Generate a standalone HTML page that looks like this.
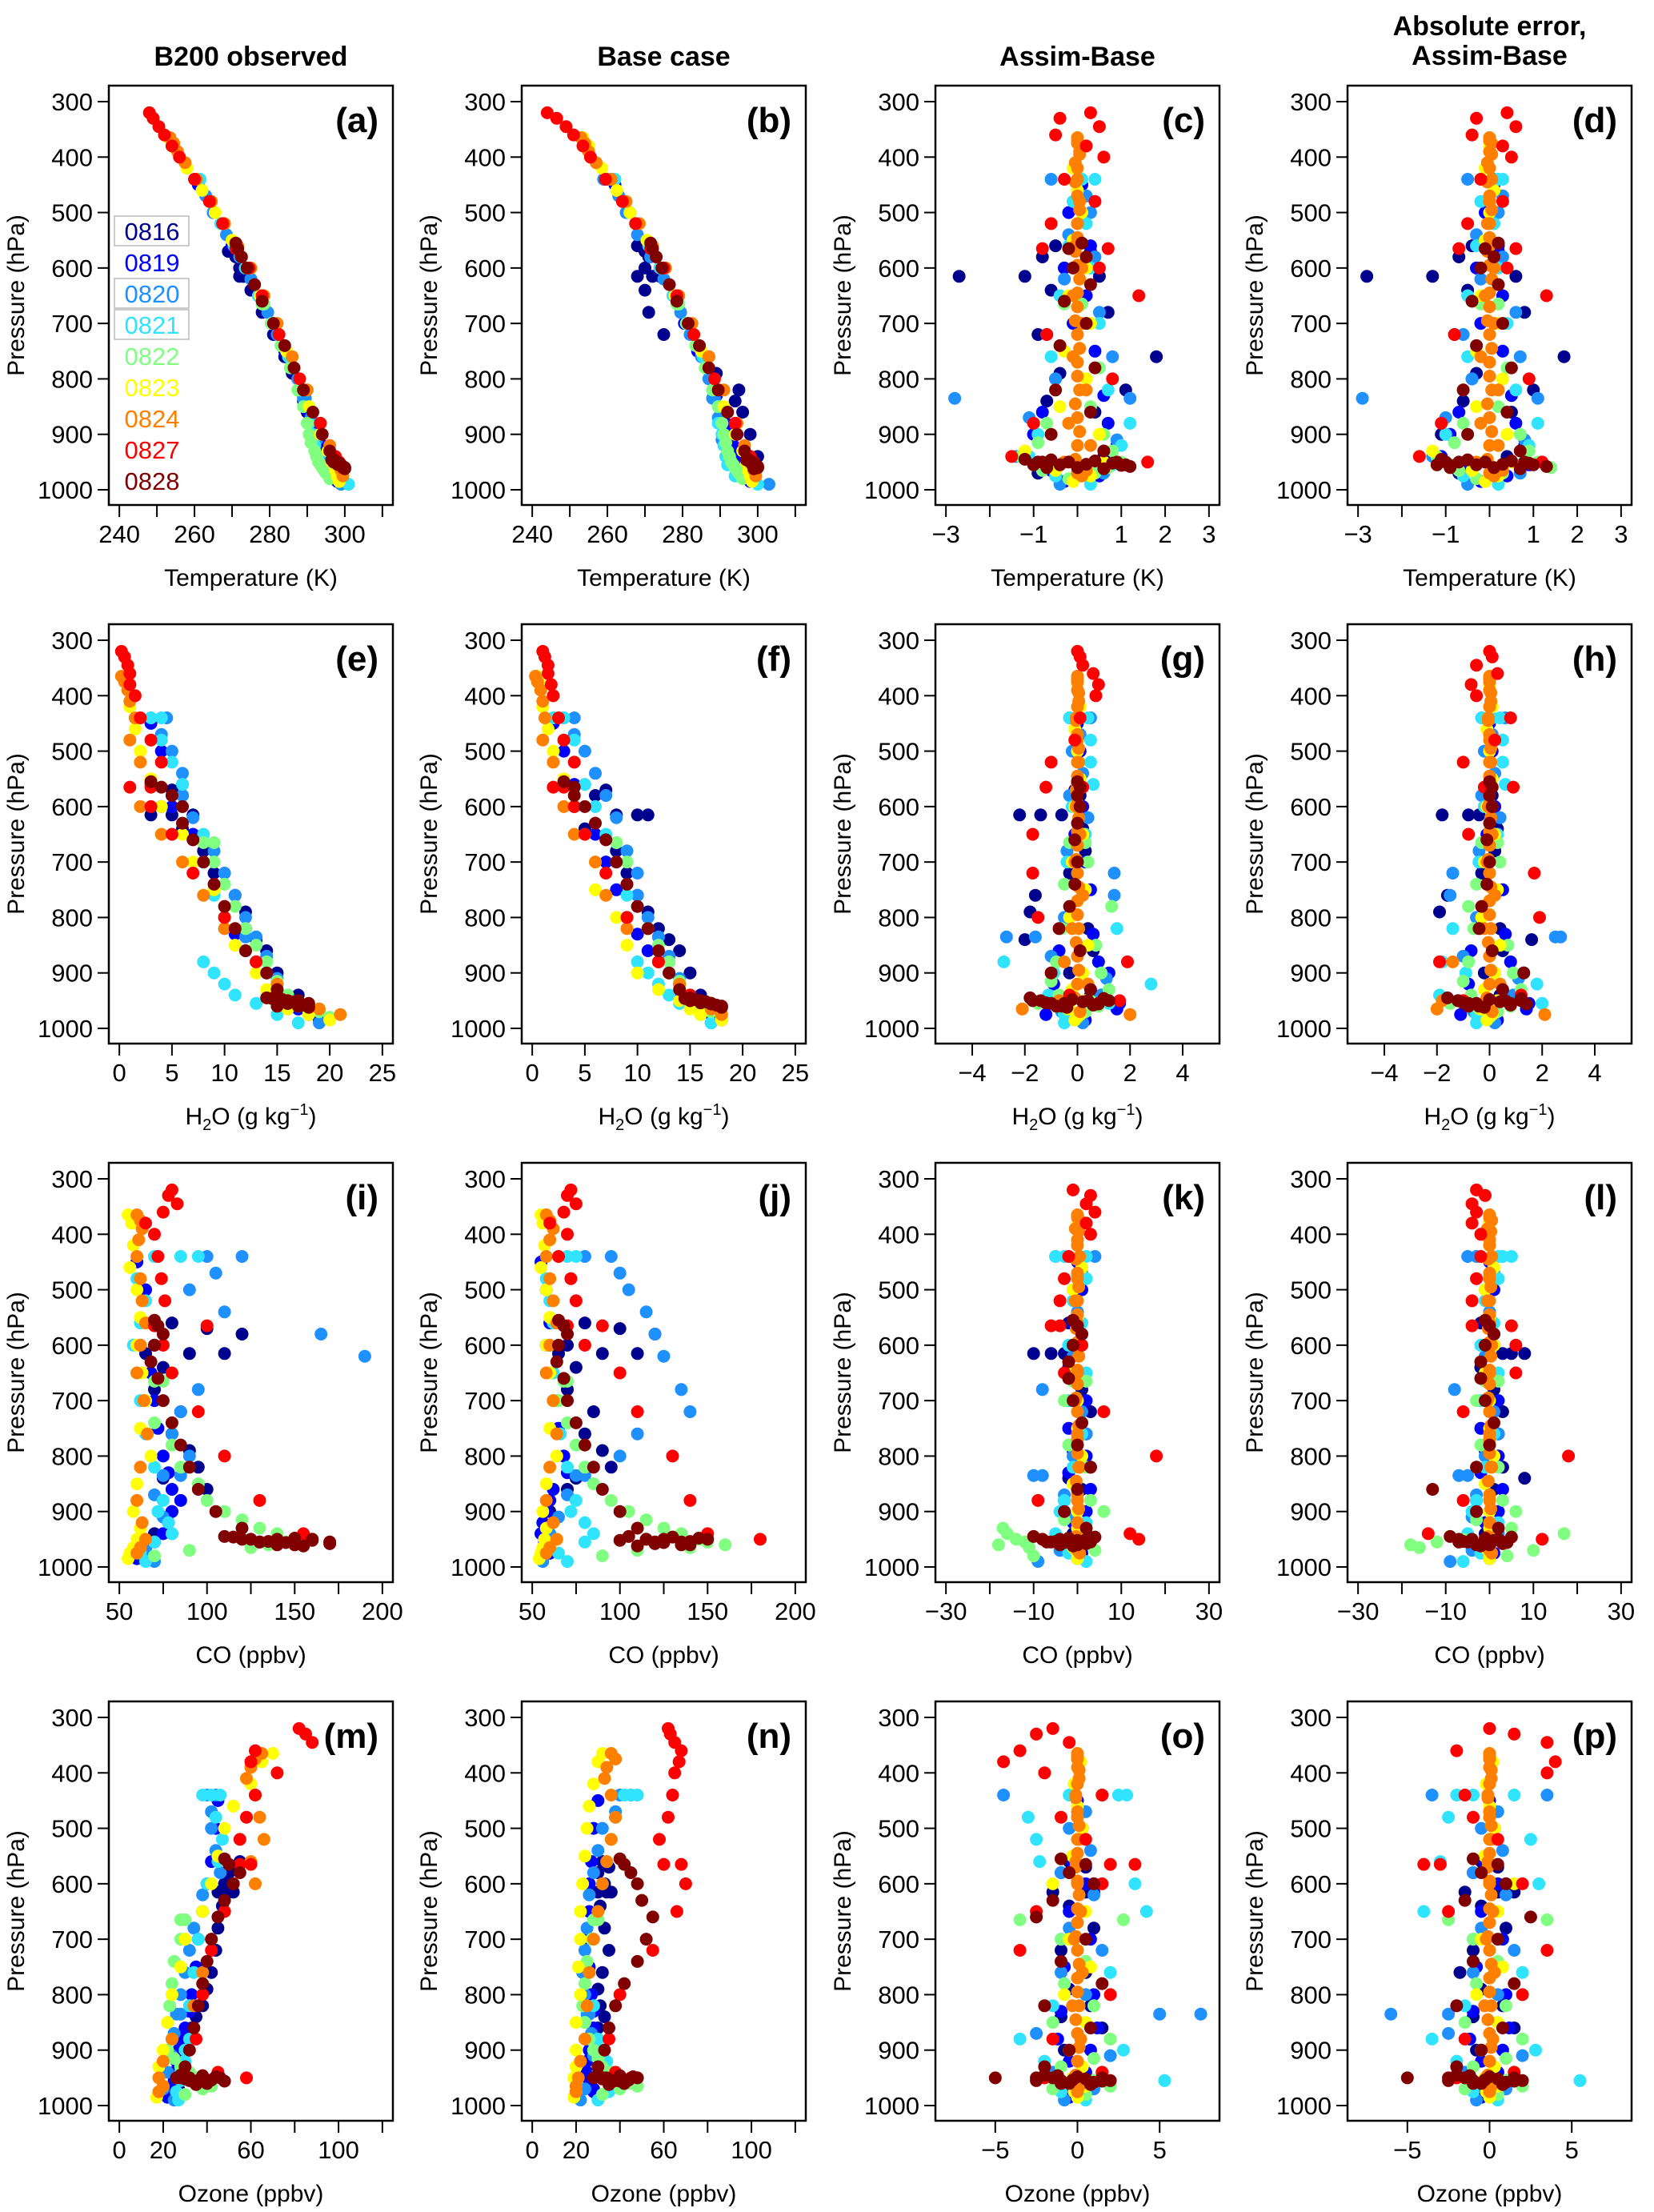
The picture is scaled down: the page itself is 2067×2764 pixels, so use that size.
<!DOCTYPE html>
<html><head><meta charset="utf-8"><style>
html,body{margin:0;padding:0;background:#fff}
svg{display:block}
text{font-family:"Liberation Sans",Arial,sans-serif;fill:#000}
</style></head><body>
<svg id="fig" width="2067" height="2764" viewBox="0 0 2067 2764"></svg>
<script>
// ---- pressure levels (hPa) per flight date ----
const dates = ["0816","0819","0820","0821","0822","0823","0824","0827","0828"];
const colors = ["#00008F","#0000FF","#1E90FF","#30E4FF","#80FF80","#FFFF00","#FF8000","#FF0000","#800000"];
const P0816=[560,570,580,600,615,615,615,640,680,720,760,790,820,840,860,900,940,970];
const P0819=[450,500,560,600,650,700,750,800,830,860,880,900,920,940,955,965,975,985];
const P0820=[440,440,470,500,540,580,620,680,720,760,800,835,835,870,910,940,970,990];
const P0821=[440,440,440,480,520,560,600,650,700,760,820,880,900,920,940,955,975,990];
const P0822=[665,665,700,740,780,820,850,880,900,915,930,940,950,955,960,965,970,980];
const P0823=[365,380,420,460,500,550,600,650,700,750,800,850,900,930,950,965,975,985];
const P0824=[365,375,390,410,440,480,520,560,600,650,700,760,820,880,920,950,965,975];
const P0827=[320,330,345,360,380,400,440,480,520,565,565,600,650,720,800,880,940,950];
const P0828=[555,565,580,600,630,660,700,740,780,820,860,900,930,950,950,955,955,960];
const PRES=[P0816,P0819,P0820,P0821,P0822,P0823,P0824,P0827,P0828];
// extra 0828 near-surface cluster levels and 0824 column levels
const SURF_P=[945,950,955,960,948,952,958,946,954,962,950,956];
const COL_P=[370,395,420,445,470,495,520,545,570,595,620,645,670,695,720,745,770,795,820,845,870,895,920,945,970];

// (a) Temperature observed
const A0816=[270,269,271,272,273,273,272,275,278,281,284,286,288,289,290,293,296,298];
const A0819=[261,265,270,273.5,277,280.5,284,287.5,289,290.5,292,293,294,295,296,297,297.5,298];
const A0820=[260,261,263,265,268.5,272,275,279.5,282,285,287.5,289,289.5,291,292.5,294.5,297,299];
const A0821=[260.5,261,261.5,264,267,270.5,273.5,277,280.5,285,288,290.5,291.5,292,293,294,296,301];
const A0822=[278,278.5,280.5,283,285.5,287.5,289,290,290.5,291,292,292.5,293,293.5,294,294.5,295,296];
const A0823=[253,254.5,258,262,265.5,270,274,277.5,281,284.5,288,290.5,293.5,295.5,296.5,297.5,298,298.5];
const A0824=[253.5,254.5,255.5,257.5,260.5,264.5,268,271.5,275,278.5,282,286,290,293.5,296,298,299,299.5];
const A0827=[248,249,250.5,252,254,256,260,264,267.5,271,271.5,274.5,278,282.5,288,293.5,297.5,298.5];
const A0828=[271,271.5,272.5,274,276,278,281,284,286.5,289,291.5,294,296,297.5,298,298.5,299,299.5];
// (b) Temperature base
const B0816=[268,270,271,270,268,272,274,270,271,275,287,289,295,294,296,298,300,296];
const B0819=[262,266,271,274,277.5,280.5,284,287.5,289,290.5,291.5,292.5,293.5,294.5,295.5,296,297,298];
const B0820=[259,260,263,265,268,271.5,275,279.5,282,285,287,288,288.5,289.5,290.5,292.5,295,303];
const B0821=[261,261.5,262,264.5,267.5,271,274,277.5,281,285.5,288,289.5,290.5,291,291.5,292,294,300];
const B0822=[278.5,279,281,283.5,286,288,289.5,290.5,291,291.5,292,292.5,293,293.5,294,294.5,295,296];
const B0823=[253.5,255,258.5,262.5,266,270.5,274.5,278,281.5,285,288.5,291,294,296,297,297.5,298,298.5];
const B0824=[253,254,255,257,261,265,268.5,272,275.5,279,282.5,287,291,294.5,296.5,298.5,299,299.5];
const B0827=[244,246.5,249,251,253.5,255.5,259.5,264,267.5,271.5,272,275,278.5,283,288.5,294,298,299];
const B0828=[271.5,272,273,274.5,276.5,278.5,281.5,284.5,287,289.5,292,294.5,296.5,298,298.5,299,299.5,300];
// (c) Temperature Assim-Base
const C0816=[-0.5,0.3,-0.8,-0.3,-1.2,-2.7,0.5,-0.6,0.7,-0.9,1.8,-0.4,1.1,-0.7,0.4,-1.0,0.6,-0.9];
const C0819=[0.1,-0.2,0.3,-0.3,0.2,-0.1,0.4,-0.5,0.6,-0.8,0.7,-1.0,0.9,-1.2,1.0,-0.6,0.5,-0.3];
const C0820=[0.0,-0.6,0.2,0.3,-0.2,0.4,-0.3,0.5,-0.7,0.8,-0.5,-2.8,1.2,-1.1,0.9,-1.4,0.6,-0.4];
const C0821=[-0.3,0.1,0.4,-0.1,0.2,-0.2,0.3,-0.4,0.5,-0.6,0.7,1.2,-0.9,1.0,-1.1,0.8,-0.5,0.3];
const C0822=[0.1,-0.3,0.2,-0.4,0.5,-0.5,0.3,-0.7,0.6,-0.9,0.8,-1.3,1.0,-1.0,0.7,-0.8,0.4,-0.2];
const C0823=[0.0,0.1,-0.1,0.0,0.1,-0.1,0.2,-0.2,0.3,-0.3,0.2,-0.4,0.5,-1.2,0.6,-0.5,0.3,-0.1];
const C0824=[0.0,0.0,0.05,-0.05,0.0,0.05,0.0,-0.05,0.1,-0.1,0.1,-0.1,0.2,-0.2,0.3,-0.3,0.2,0.1];
const C0827=[0.3,-0.4,0.5,-0.5,0.2,0.6,-0.3,0.4,-0.6,0.7,-0.8,0.5,1.4,-0.7,0.8,-1.0,-1.5,1.6];
const C0828=[0.1,-0.2,0.2,-0.1,0.3,-0.3,0.2,-0.4,0.4,-0.5,0.3,-0.6,0.6,-0.9,0.9,-1.0,1.1,-0.7];
// (d) Temperature absolute error
const D0816=[-0.4,0.2,-0.7,-0.3,-1.3,-2.8,0.6,-0.5,0.8,-0.8,1.7,-0.3,1.0,-0.6,0.5,-1.1,0.4,-0.7];
const D0819=[0.1,-0.1,0.2,-0.3,0.3,-0.2,0.3,-0.4,0.5,-0.7,0.6,-0.9,0.8,-1.1,0.9,-0.5,0.4,-0.2];
const D0820=[0.1,-0.5,0.3,0.2,-0.3,0.3,-0.2,0.6,-0.6,0.7,-0.4,-2.9,1.1,-1.0,0.8,-1.3,0.7,-0.5];
const D0821=[-0.2,0.2,0.3,-0.2,0.1,-0.3,0.2,-0.5,0.4,-0.5,0.6,1.1,-1.0,0.9,-1.2,0.7,-0.6,0.2];
const D0822=[0.2,-0.2,0.1,-0.3,0.4,-0.6,0.2,-0.6,0.7,-0.8,0.9,-1.2,1.1,-0.9,1.4,-0.7,0.3,-0.3];
const D0823=[0.0,0.0,-0.1,0.1,0.0,-0.1,0.1,-0.2,0.2,-0.3,0.3,-0.3,0.4,-1.3,0.5,-0.4,0.2,-0.1];
const D0824=[0.0,0.05,0.0,-0.05,0.05,0.0,-0.05,0.0,0.1,-0.1,0.1,-0.2,0.2,-0.2,0.2,-0.3,0.3,0.1];
const D0827=[0.4,-0.3,0.6,-0.4,0.3,0.5,-0.2,0.3,-0.5,0.6,-0.7,0.4,1.3,-0.8,0.9,-1.1,-1.6,1.2];
const D0828=[0.2,-0.1,0.1,-0.2,0.2,-0.4,0.3,-0.3,0.5,-0.6,0.4,-0.5,0.7,-1.0,0.8,-1.2,1.0,-0.9];
// (e) H2O observed
const E0816=[3,5,6,4,7,5,3,6,8,9,11,12,12,13,14,15,17,18];
const E0819=[3,4,6,5,7,8,9,10,11,12,13,14,15,15,16,17,18,19];
const E0820=[3,4.5,4,5,6,6,7,9,10,11,12,12,13,14,15,16,18,19];
const E0821=[2,3,4,4,5,6,6,8,8,9,10,8,9,10,11,13,15,17];
const E0822=[8,9,9,10,11,12,13,14,14,15,15,16,16,17,17,18,19,20];
const E0823=[0.5,1,1,1.5,2,3,4,6,7,9,10,11,13,14,15,16,18,20];
const E0824=[0.2,0.5,0.8,1,1.5,1,2,3,2,4,6,8,10,13,15,17,19,21];
const E0827=[0.2,0.5,0.8,1,1,1.5,2,3,4,1,3,3,5,7,10,13,15,16];
const E0828=[3,4,5,6,6,7,8,9,10,11,12,14,15,16,17,18,16,15];
// (f) H2O base
const F0816=[3,7,6,4,10,8,11,5,8,9,10,11,12,13,14,15,16,17];
const F0819=[2,3,4,4,6,7,8,9,10,11,12,13,14,14,15,16,17,18];
const F0820=[3,4,4,5,6,7,8,9,10,10,11,12,12,13,14,15,16,17];
const F0821=[2,3,3,4,4,5,6,7,8,9,11,10,11,12,13,14,16,17];
const F0822=[8,8,9,9,10,11,12,13,13,14,14,15,15,16,16,16,17,18];
const F0823=[0.5,0.8,1,1.5,2,3,4,5,6,6,8,9,10,12,14,15,16,18];
const F0824=[0.3,0.5,0.8,1,1.2,1,2,3,3,4,6,7,9,12,14,16,17,18];
const F0827=[1,1.2,1.5,1.5,1.8,2,2.5,3,4,2,3,4,5,7,9,12,15,16];
const F0828=[3,4,4,5,6,7,8,9,10,11,12,13,14,15,16,17,17,18];
// (g) H2O Assim-Base
const G0816=[0.0,-0.1,0.1,0.1,-2.2,-1.4,-0.6,0.2,0.3,-0.3,-1.6,-1.8,0.4,-2.0,0.6,-0.3,0.5,-0.4];
const G0819=[0.0,0.1,0.0,0.2,-0.1,0.3,0.5,-0.4,0.6,-0.7,0.8,1.2,-0.9,0.9,1.6,1.5,-1.2,0.3];
const G0820=[-0.3,0.5,0.1,-0.2,0.2,-0.3,0.4,-0.4,1.4,1.4,-0.5,-2.7,-1.6,-1.0,1.1,0.9,-0.6,0.2];
const G0821=[-0.3,0.4,0.1,0.5,0.5,0.6,-0.2,0.3,-0.4,0.2,1.5,-2.8,-0.9,2.8,-1.1,1.2,-0.5,-0.5];
const G0822=[0.3,-0.3,0.4,-0.5,1.3,-0.6,0.7,-0.8,0.9,-1.0,1.2,-0.7,0.5,-1.5,0.8,-0.4,0.3,0.0];
const G0823=[0.0,0.0,0.1,-0.1,0.0,0.1,-0.1,0.2,-0.2,0.3,-0.3,0.4,0.2,-0.2,0.3,-0.3,0.1,-0.1];
const G0824=[0.0,0.0,0.0,0.05,-0.05,0.0,0.05,0.0,-0.05,0.1,-0.1,0.2,-0.2,-0.5,0.4,-0.7,-2.1,2.0];
const G0827=[0.0,0.1,0.2,0.6,0.8,0.7,0.1,-0.1,-1.0,-1.2,0.2,0.1,-1.7,-1.7,-1.5,1.9,-0.3,1.6];
const G0828=[0.0,0.1,0.0,0.1,0.0,-0.1,0.0,-0.1,-0.3,-0.7,0.1,-1.0,0.5,-1.7,1.2,-0.5,0.8,-0.8];
// (h) H2O absolute error
const H0816=[0.0,-0.1,0.1,0.0,-1.8,-0.8,-0.4,0.3,0.2,-0.3,-1.6,-1.9,0.4,1.6,0.5,-0.2,0.4,-0.4];
const H0819=[0.0,0.1,0.0,0.2,-0.1,-0.4,0.5,-0.4,0.6,-0.7,0.8,1.3,-0.8,1.0,1.5,1.4,-1.1,0.3];
const H0820=[-0.3,0.6,0.1,-0.2,0.2,-0.3,0.4,-0.4,-1.4,-1.5,-0.5,2.5,2.7,-1.0,1.1,0.9,-0.6,0.2];
const H0821=[-0.3,0.4,0.1,0.5,0.5,0.6,-0.2,0.3,-0.4,0.2,-1.4,-1.8,-0.9,1.8,-1.9,2.0,-0.5,-0.5];
const H0822=[0.3,-0.3,0.4,-0.5,-0.8,-0.6,0.7,-0.8,0.9,-1.0,1.2,-0.7,0.5,-1.5,0.8,-0.4,0.3,0.0];
const H0823=[0.0,0.0,0.1,-0.1,0.0,0.1,-0.1,0.2,-0.2,0.3,-0.3,0.4,0.2,-0.2,0.3,-0.3,0.1,-0.1];
const H0824=[0.0,0.0,0.0,0.05,-0.05,0.0,0.05,0.0,-0.05,0.1,-0.1,0.2,-0.2,-1.4,0.4,-1.8,-2.0,2.1];
const H0827=[0.0,0.1,-0.5,0.3,-0.7,-0.5,0.8,0.2,-1.0,0.9,-0.2,0.1,-0.8,1.7,1.9,-1.9,1.2,-1.0];
const H0828=[0.0,0.1,0.0,0.1,0.0,-0.1,0.0,-0.1,-0.3,-0.4,0.1,1.3,0.5,-1.2,1.2,-0.5,0.8,-0.8];
// (i) CO observed
const I0816=[80,100,120,70,90,110,65,75,70,85,80,90,95,75,100,80,70,60];
const I0819=[60,65,70,62,68,70,72,75,78,80,85,80,78,75,70,65,62,60];
const I0820=[100,120,105,90,110,165,190,95,85,80,90,85,75,70,75,80,65,70];
const I0821=[70,85,95,60,65,62,58,60,62,65,70,75,72,78,80,70,62,65];
const I0822=[75,70,65,70,80,85,95,100,110,120,130,140,150,145,135,125,90,70];
const I0823=[55,57,58,56,60,62,60,63,65,62,68,60,58,62,60,58,56,55];
const I0824=[60,62,63,61,60,62,63,65,62,60,64,66,62,60,63,65,62,60];
const I0827=[80,78,83,75,65,70,72,74,76,70,100,75,80,95,110,130,155,160];
const I0828=[70,72,75,70,68,72,75,80,85,90,95,105,120,140,160,170,130,150];
// (j) CO base
const J0816=[80,100,120,70,90,110,65,75,70,85,80,90,95,75,70,60,55,58];
const J0819=[55,58,60,58,60,62,65,68,70,62,60,58,56,55,57,58,60,55];
const J0820=[80,95,100,105,115,120,125,135,140,110,100,80,75,70,65,60,58,56];
const J0821=[65,70,75,58,60,62,60,62,64,66,70,75,72,80,85,80,65,70];
const J0822=[70,68,65,70,75,80,85,95,105,115,125,135,145,150,160,140,110,90];
const J0823=[55,56,57,55,58,60,58,60,62,60,64,58,56,58,57,56,55,54];
const J0824=[58,60,62,60,58,60,62,64,60,58,62,64,60,58,62,64,60,58];
const J0827=[72,70,75,68,60,70,65,72,75,70,90,80,100,110,130,140,150,180];
const J0828=[65,68,70,65,64,68,70,75,80,85,90,100,110,115,125,135,120,140];
// (k) CO Assim-Base
const K0816=[-2,0,1,-1,-10,-6,-3,-2,1,3,2,-1,3,-2,1,0,-1,0];
const K0819=[0,1,-1,1,-1,2,-2,2,-2,3,-3,2,-1,1,0,-1,1,0];
const K0820=[-5,4,1,-1,0,1,-1,-8,1,2,-1,-10,-8,-3,-1,2,-4,-9];
const K0821=[-3,-5,2,2,-1,1,-2,2,-2,1,-1,-3,-4,2,-5,3,-2,2];
const K0822=[2,-1,-3,1,-2,2,-1,3,6,-3,-17,-16,-14,-12,-18,-11,4,-10];
const K0823=[0,0,0,1,-1,0,1,-1,0,0,1,-1,0,0,1,-1,0,0];
const K0824=[0,0.5,-0.5,0,0.5,0,-0.5,0,0.5,0,-0.5,0,0.5,0,0,-0.5,0,0.5];
const K0827=[-1,3,2,4,2,3,-2,-3,-4,-6,-4,1,-3,6,18,-9,12,14];
const K0828=[-1,0,1,-1,-2,-2,-1,1,0,3,0,-3,2,-4,2,-7,3,0];
// (l) CO absolute error
const L0816=[-2,0,1,-1,3,5,8,-2,1,3,2,-1,3,8,1,0,-1,0];
const L0819=[0,1,-1,1,-1,2,-2,2,-2,3,-3,2,-1,1,0,-1,1,0];
const L0820=[-5,-3,1,-1,0,1,-1,-8,1,2,-1,-7,-5,-3,-4,2,-4,-9];
const L0821=[3,5,2,2,-1,1,-2,2,-2,1,-1,-3,-4,2,-5,3,-2,-6];
const L0822=[2,-1,-3,1,-2,2,-1,3,6,-3,5,17,-6,-12,-18,-16,10,4];
const L0823=[0,0,0,1,-1,0,1,-1,0,0,1,-1,0,0,1,-1,0,0];
const L0824=[0,0.5,-0.5,0,0.5,0,-0.5,0,0.5,0,-0.5,0,0.5,0,0,-0.5,0,0.5];
const L0827=[-3,-1,-4,-3,-4,-2,-2,-3,-4,5,-4,6,6,-6,18,-6,-14,12];
const L0828=[-1,0,1,-1,-2,-2,-1,1,0,-3,-13,-3,2,-4,2,-7,3,0];
// (m) Ozone observed
const M0816=[55,52,50,48,52,45,50,47,45,44,42,40,38,35,33,30,28,27];
const M0819=[45,44,42,40,38,36,35,33,32,30,28,27,26,25,25,24,23,22];
const M0820=[40,44,42,42,44,46,38,34,32,30,28,26,28,25,24,22,20,25];
const M0821=[38,42,46,44,47,45,40,38,36,34,32,32,30,30,28,28,26,27];
const M0822=[28,30,28,25,24,23,22,24,22,25,28,32,35,38,40,42,38,30];
const M0823=[70,65,60,52,48,45,42,38,30,28,24,22,20,18,18,20,18,17];
const M0824=[65,62,60,58,62,64,66,60,62,48,42,38,34,24,20,18,20,18];
const M0827=[82,85,88,62,60,72,62,58,55,55,60,52,48,42,38,35,45,58];
const M0828=[48,50,55,52,48,45,42,40,38,36,34,32,30,28,26,32,36,40];
// (n) Ozone base
const N0816=[32,35,30,33,36,30,34,31,33,35,32,30,31,33,30,32,30,28];
const N0819=[30,28,27,26,26,25,26,27,28,28,27,26,25,25,26,27,28,30];
const N0820=[40,45,38,32,30,28,26,25,24,23,24,25,26,27,28,30,24,22];
const N0821=[42,45,48,38,36,34,32,30,28,26,28,30,32,34,36,40,35,30];
const N0822=[28,30,27,25,24,23,24,26,28,30,32,35,38,42,45,48,40,32];
const N0823=[32,30,28,26,25,24,23,22,22,21,22,20,20,20,19,20,20,19];
const N0824=[36,38,34,33,36,38,36,34,32,30,28,26,25,24,22,21,20,20];
const N0827=[62,63,65,68,67,65,64,62,58,60,68,70,66,55,40,35,38,45];
const N0828=[40,42,45,48,50,55,52,48,42,38,35,33,30,28,33,36,40,42];
// (o) Ozone Assim-Base
const O0816=[-0.5,0.5,-1,1,-1.5,0.5,1,-0.5,1,-1,0.5,-0.5,0.8,-1,1.5,-0.8,0.5,-0.3];
const O0819=[0,0.3,-0.3,0.5,-0.5,0.8,-0.8,1,-1,1.2,-1.2,0.8,-0.5,0.5,1,-1,0.3,-0.5];
const O0820=[-4.5,1.5,0.5,-0.5,0.8,-1,1,-0.5,1.5,-1,0.5,5,7.5,-2.5,2,-1.5,1,-0.8];
const O0821=[-0.5,2.5,3,-3,-2.5,-2.3,3.5,4.2,-1,2,-1.5,-3.5,2.8,-2,1.5,5.3,-1,0.5];
const O0822=[-3.5,2.8,-1,0.5,-0.8,1,-1.5,2,-0.5,1,-1,1.5,-2,1,-0.5,2,-1.5,0.5];
const O0823=[0,0.2,-0.2,0,0.3,-0.3,-1.5,0.5,-0.5,0.8,-0.8,0.5,-0.5,0.3,-0.3,0.5,-0.2,0];
const O0824=[0,0,0,0.1,-0.1,0,0.1,-0.1,0,0.2,-0.2,0.3,-0.3,0.2,0,-0.2,0.1,0];
const O0827=[-1.5,-2.5,-0.5,-3.5,-4.5,-2,1.5,-1,0.5,2,3.5,1.5,-2.5,-3.5,2,-1.5,1.5,-2];
const O0828=[-1,0.5,-0.5,1,-1.5,-2.5,0.5,-1,1.5,-2,0.8,-0.5,-2,-5,1.5,-2.5,2,-1];
// (p) Ozone absolute error
const Q0816=[-0.5,0.5,-1,1,-1.5,0.5,1.5,-0.5,1,-1,-1.8,-0.5,0.8,-1,1.5,-0.8,0.5,-0.3];
const Q0819=[0,0.3,-0.3,0.5,-0.5,0.8,-0.8,1,-1,1.2,-1.2,0.8,-0.5,0.5,1,-1,0.3,-0.5];
const Q0820=[-3.5,3.5,0.5,-0.5,0.8,-1,1,-0.5,1.5,-1,0.5,-2.5,-6,-2.5,2,-1.5,1,-0.8];
const Q0821=[-2,-1,1.5,-2.5,2.5,-3,3,-4,-1,2,-1.5,-3.5,2.8,-2,1.5,5.5,-1,0.5];
const Q0822=[-2.5,3.5,-1,0.5,-0.8,1,-1.5,2,-0.5,1,-1,1.5,-2,1,-0.5,2,-1.5,0.5];
const Q0823=[0,0.2,-0.2,0,0.3,-0.3,1.5,0.5,-0.5,0.8,-0.8,0.5,-0.5,0.3,-0.3,0.5,-0.2,0];
const Q0824=[0,0,0,0.1,-0.1,0,0.1,-0.1,0,0.2,-0.2,0.3,-0.3,0.2,0,-0.2,0.1,0];
const Q0827=[0,1.5,3.5,-2,4,3.5,-1.5,-1,0.5,-3,-4,2,-2.5,3.5,2,-1.5,1.5,-2];
const Q0828=[-1,0.5,-0.5,1,-1.5,2.5,0.5,-1,1.5,-2,0.8,-0.5,-2,-5,1.5,-2.5,2,-1];

// 0828 near-surface cluster values per panel
const SA=[297,298,299,300,297.5,298.5,299.5,296.5,298,300,297,299];
const SB=[297.5,298.5,299.5,300,298,299,300,297,298.5,299,298,299.5];
const SC=[-1.2,-0.8,-0.4,0,0.4,0.8,1.2,-0.6,0.2,0.6,-0.2,1.0];
const SD=[-1.1,-0.7,-0.3,0.1,0.5,0.9,1.3,-0.5,0.3,0.7,-0.1,-0.9];
const SE=[14,15,16,17,15.5,16.5,17.5,14.5,16,18,15,17];
const SF=[15,16,17,18,15.5,16.5,17.5,14.5,16,18,15,17];
const SG=[-1.8,-1.4,-1,-0.6,-0.2,0.2,0.6,1,-1.2,-0.4,0.4,0.8];
const SH=[-1.6,-1.2,-0.8,-0.4,0,0.4,0.8,1.2,-1,-0.2,0.6,1.4];
const SI=[110,120,130,140,150,160,170,115,135,155,125,145];
const SJ=[105,115,125,135,145,100,120,130,140,110,150,125];
const SK=[-10,-8,-6,-4,-2,0,2,4,-5,-1,3,-3];
const SL=[-9,-7,-5,-3,-1,1,3,5,-6,-2,2,4];
const SM=[28,32,36,40,44,30,34,38,42,35,46,48];
const SN=[30,34,38,42,46,32,36,40,44,35,48,40];
const SO=[-2,-1.5,-1,-0.5,0,0.5,1,-1.2,-0.3,0.8,-2.5,1.5];
const SP=[-2,-1.5,-1,-0.5,0,0.5,1,-1.2,-0.3,0.8,-2.5,1.5];
// 0824 column values (difference panels)
const CT=[0,0.05,0,-0.05,0,0.05,0,0,-0.05,0,0.05,0,0,-0.05,0,0.05,0,0,0.05,-0.05,0,0.05,0,-0.05,0];
const CQ=[0,0.05,0,-0.05,0,0.05,0,0,-0.05,0,0.05,0,0,-0.05,0,0.05,0,0,0.05,-0.05,0,0.05,0,-0.1,0.1];
const CC=[0,0.3,0,-0.3,0,0.3,0,0,-0.3,0,0.3,0,0,-0.3,0,0.3,0,0,0.3,-0.3,0,0.3,0,-0.3,0];
const CO3=[0,0.1,0,-0.1,0,0.1,0,0,-0.1,0,0.1,0,0,-0.1,0,0.1,0,0,0.1,-0.1,0,0.1,0,-0.1,0];

// tick definitions
const yTicks=[300,400,500,600,700,800,900,1000];
const tTicks=[240,250,260,270,280,290,300,310], tLabels=[240,260,280,300];
const tdTicks=[-3,-2,-1,0,1,2,3], tdLabels=[-3,-1,1,2,3];
const qTicks=[0,5,10,15,20,25], qLabels=[0,5,10,15,20,25];
const qdTicks=[-4,-2,0,2,4], qdLabels=[-4,-2,0,2,4];
const coTicks=[50,75,100,125,150,175,200], coLabels=[50,100,150,200];
const codTicks=[-30,-20,-10,0,10,20,30], codLabels=[-30,-10,10,30];
const oTicks=[0,20,40,60,80,100,120], oLabels=[0,20,60,100];
const odTicks=[-5,0,5], odLabels=[-5,0,5];

const titles=["B200 observed","Base case","Assim-Base","Absolute error,|Assim-Base"];
const colX=[136,652,1169,1684], rowY=[107,780,1453,2126], W=355, H=524;
const NS="http://www.w3.org/2000/svg";
const svg=document.getElementById("fig");
function el(tag,attrs,parent){const e=document.createElementNS(NS,tag);for(const k in attrs)e.setAttribute(k,attrs[k]);(parent||svg).appendChild(e);return e;}

const panels=[
 {id:"a",r:0,c:0,xr:[240,310],tk:tTicks,lb:tLabels,xt:"T",s:SA,col:null,v:[A0816,A0819,A0820,A0821,A0822,A0823,A0824,A0827,A0828]},
 {id:"b",r:0,c:1,xr:[240,310],tk:tTicks,lb:tLabels,xt:"T",s:SB,col:null,v:[B0816,B0819,B0820,B0821,B0822,B0823,B0824,B0827,B0828]},
 {id:"c",r:0,c:2,xr:[-3,3],tk:tdTicks,lb:tdLabels,xt:"T",s:SC,col:CT,v:[C0816,C0819,C0820,C0821,C0822,C0823,C0824,C0827,C0828]},
 {id:"d",r:0,c:3,xr:[-3,3],tk:tdTicks,lb:tdLabels,xt:"T",s:SD,col:CT,v:[D0816,D0819,D0820,D0821,D0822,D0823,D0824,D0827,D0828]},
 {id:"e",r:1,c:0,xr:[0,25],tk:qTicks,lb:qLabels,xt:"Q",s:SE,col:null,v:[E0816,E0819,E0820,E0821,E0822,E0823,E0824,E0827,E0828]},
 {id:"f",r:1,c:1,xr:[0,25],tk:qTicks,lb:qLabels,xt:"Q",s:SF,col:null,v:[F0816,F0819,F0820,F0821,F0822,F0823,F0824,F0827,F0828]},
 {id:"g",r:1,c:2,xr:[-5,5],tk:qdTicks,lb:qdLabels,xt:"Q",s:SG,col:CQ,v:[G0816,G0819,G0820,G0821,G0822,G0823,G0824,G0827,G0828]},
 {id:"h",r:1,c:3,xr:[-5,5],tk:qdTicks,lb:qdLabels,xt:"Q",s:SH,col:CQ,v:[H0816,H0819,H0820,H0821,H0822,H0823,H0824,H0827,H0828]},
 {id:"i",r:2,c:0,xr:[50,200],tk:coTicks,lb:coLabels,xt:"CO",s:SI,col:null,v:[I0816,I0819,I0820,I0821,I0822,I0823,I0824,I0827,I0828]},
 {id:"j",r:2,c:1,xr:[50,200],tk:coTicks,lb:coLabels,xt:"CO",s:SJ,col:null,v:[J0816,J0819,J0820,J0821,J0822,J0823,J0824,J0827,J0828]},
 {id:"k",r:2,c:2,xr:[-30,30],tk:codTicks,lb:codLabels,xt:"CO",s:SK,col:CC,v:[K0816,K0819,K0820,K0821,K0822,K0823,K0824,K0827,K0828]},
 {id:"l",r:2,c:3,xr:[-30,30],tk:codTicks,lb:codLabels,xt:"CO",s:SL,col:CC,v:[L0816,L0819,L0820,L0821,L0822,L0823,L0824,L0827,L0828]},
 {id:"m",r:3,c:0,xr:[0,120],tk:oTicks,lb:oLabels,xt:"O3",s:SM,col:null,v:[M0816,M0819,M0820,M0821,M0822,M0823,M0824,M0827,M0828]},
 {id:"n",r:3,c:1,xr:[0,120],tk:oTicks,lb:oLabels,xt:"O3",s:SN,col:null,v:[N0816,N0819,N0820,N0821,N0822,N0823,N0824,N0827,N0828]},
 {id:"o",r:3,c:2,xr:[-8,8],tk:odTicks,lb:odLabels,xt:"O3",s:SO,col:CO3,v:[O0816,O0819,O0820,O0821,O0822,O0823,O0824,O0827,O0828]},
 {id:"p",r:3,c:3,xr:[-8,8],tk:odTicks,lb:odLabels,xt:"O3",s:SP,col:CO3,v:[Q0816,Q0819,Q0820,Q0821,Q0822,Q0823,Q0824,Q0827,Q0828]}
];

// column titles
titles.forEach((t,i)=>{
  const cx=colX[i]+W/2;
  const parts=t.split("|");
  parts.forEach((s,j)=>{
    const y = parts.length===1 ? 82 : 44+j*37;
    const tx=el("text",{x:cx,y:y,"text-anchor":"middle","font-size":"34","font-weight":"bold"});
    tx.textContent=s;
    
    
  });
});

const R=8;
panels.forEach(pn=>{
  const L=colX[pn.c], T=rowY[pn.r];
  const g=el("g",{});
  
  
  const pad=(pn.xr[1]-pn.xr[0])*0.04;
  const x0=pn.xr[0]-pad, x1=pn.xr[1]+pad;
  const sx=v=>L+(v-x0)/(x1-x0)*W;
  const sy=p=>T+20+(p-300)/700*485;
  const pts=el("g",{},g);
  
  
  function series(vals,pr,color,name){
    vals.forEach((val,k)=>{
      const c=el("circle",{cx:sx(val).toFixed(1),cy:sy(pr[k]).toFixed(1),r:R,fill:color},pts);
      
      
    });
  }
  pn.v.forEach((arr,di)=>{
    if(di===7 && pn.col) series(pn.col,COL_P,colors[6],'point-0824');
    series(arr,PRES[di],colors[di],'point-'+dates[di]);
  });
  series(pn.s,SURF_P,colors[8],'point-0828');
  const box=el("rect",{x:L,y:T,width:W,height:H,fill:"none",stroke:"#000","stroke-width":2.5},g);
  
  
  yTicks.forEach(p=>{
    const ln=el("line",{x1:L-14,x2:L,y1:sy(p),y2:sy(p),stroke:"#000","stroke-width":2},g);
    
    
    const t=el("text",{x:L-20,y:sy(p)+11,"text-anchor":"end","font-size":"31"},g);
    t.textContent=p;
    
    
  });
  const yl=el("text",{x:0,y:0,"text-anchor":"middle","font-size":"30",transform:`translate(${L-106},${T+262}) rotate(-90)`},g);
  yl.textContent="Pressure (hPa)";
  
  
  pn.tk.forEach(v=>{
    const ln=el("line",{x1:sx(v),x2:sx(v),y1:T+H,y2:T+H+15,stroke:"#000","stroke-width":2},g);
    
    
  });
  pn.lb.forEach(v=>{
    const t=el("text",{x:sx(v),y:T+H+47,"text-anchor":"middle","font-size":"31"},g);
    t.textContent=(v<0?"\u2212"+Math.abs(v):String(v));
    
    
  });
  const xt=el("text",{x:L+W/2,y:T+H+101,"text-anchor":"middle","font-size":"30"},g);
  
  
  if(pn.xt==="T") xt.textContent="Temperature (K)";
  else if(pn.xt==="CO") xt.textContent="CO (ppbv)";
  else if(pn.xt==="O3") xt.textContent="Ozone (ppbv)";
  else { xt.innerHTML='H<tspan font-size="20" dy="7">2</tspan><tspan dy="-7">O (g kg</tspan><tspan font-size="20" dy="-12">\u22121</tspan><tspan dy="12">)</tspan>'; }
  const lt=el("text",{x:L+W-18,y:T+58,"text-anchor":"end","font-size":"44","font-weight":"bold"},g);
  lt.textContent="("+pn.id+")";
  
  
});

// legend in panel (a)
const lg=el("g",{});


const boxed=["0816","0820","0821"];
dates.forEach((d,i)=>{
  const cy=289+i*39;
  if(boxed.includes(d)){
    const r=el("rect",{x:143,y:cy-19,width:93,height:37,fill:"#fff",stroke:"#bbb","stroke-width":1.5},lg);
    
    
  }
  const t=el("text",{x:190,y:cy+11,"text-anchor":"middle","font-size":"31",fill:colors[i],style:"fill:"+colors[i]},lg);
  t.textContent=d;
  
  
});
</script>
</body></html>
